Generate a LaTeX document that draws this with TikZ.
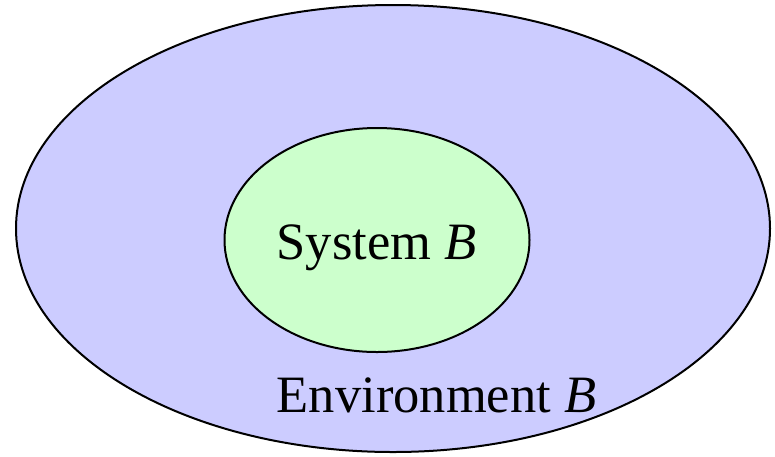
\documentclass[tikz,border=0pt]{standalone}
\usepackage{fontspec}
\setmainfont{Liberation Serif}
\usetikzlibrary{shapes.geometric}
\definecolor{envfill}{HTML}{CCCCFF}
\definecolor{sysfill}{HTML}{CCFFCC}
\tikzset{
  region/.style={draw=black, line width=2pt},
  lbl/.style={font=\fontsize{52.5}{58}\selectfont, inner sep=0pt, anchor=base}
}
\begin{document}
\begin{tikzpicture}[x=1pt,y=-1pt]
\useasboundingbox (0,0) rectangle (775,456);
\path[region, fill=envfill] (393,228.5) ellipse [x radius=377, y radius=223.5];
\path[region, fill=sysfill] (377,240) ellipse [x radius=152.5, y radius=112];
\node[lbl] (sys) at (376.5,259) {System \textit{B}};
\node[lbl] (env) at (436.5,412) {Environment \textit{B}};
\end{tikzpicture}
\end{document}
